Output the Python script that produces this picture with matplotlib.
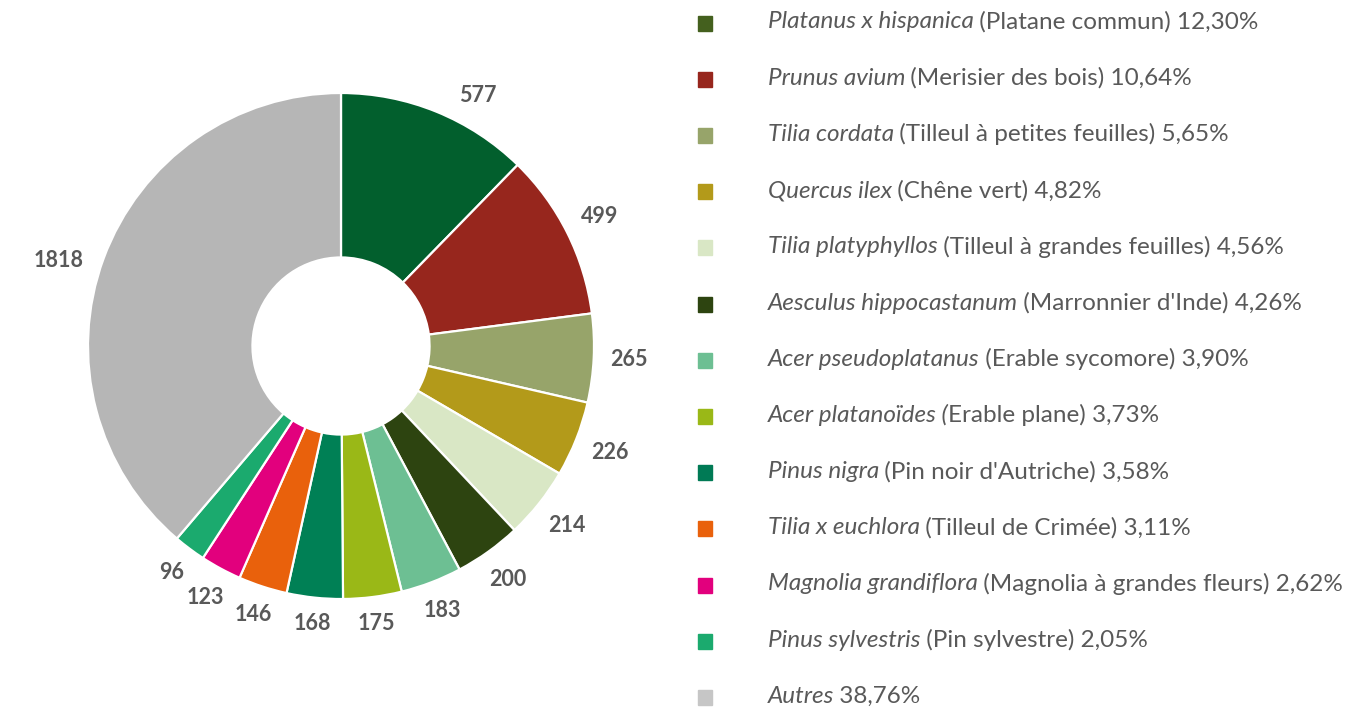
import numpy as np
import matplotlib
matplotlib.use("Agg")
import matplotlib.pyplot as plt
from matplotlib.patches import Rectangle

# data
species = ["Platanus x hispanica", "Prunus avium", "Tilia cordata", "Quercus ilex",
           "Tilia platyphyllos", "Aesculus hippocastanum", "Acer pseudoplatanus",
           "Acer platanoïdes (", "Pinus nigra", "Tilia x euchlora",
           "Magnolia grandiflora", "Pinus sylvestris", "Autres"]
common = ["(Platane commun)", "(Merisier des bois)", "(Tilleul à petites feuilles)",
          "(Chêne vert)", "(Tilleul à grandes feuilles)", "(Marronnier d'Inde)",
          "(Erable sycomore)", "Erable plane)", "(Pin noir d'Autriche)",
          "(Tilleul de Crimée)", "(Magnolia à grandes fleurs)", "(Pin sylvestre)", ""]
counts = [577, 499, 265, 226, 214, 200, 183, 175, 168, 146, 123, 96, 1818]

pie_colors = ["#025F2D", "#97261D", "#97A46A", "#B39A1A", "#D9E7C5", "#2D4410",
              "#6DBF93", "#9AB817", "#008055", "#E9610C", "#E2007D", "#1BAA6E", "#B6B6B6"]
legend_colors = ["#44601E", "#97261D", "#97A46A", "#B39A1A", "#D9E7C5", "#2D4410",
                 "#6DBF93", "#9AB817", "#007A55", "#E9610C", "#E2007D", "#1BAA6E", "#C6C6C6"]
# small angular nudge (deg) for labels that the original moved
label_nudge = [6.5, 0, 0, 0, 0, 0, 0, 0, 0, 0, 0, 0, -3.5]

grey = "#595959"
plt.rcParams['font.family'] = ['Lato', 'DejaVu Sans']

W, H = 1349, 709
fig = plt.figure(figsize=(W / 100, H / 100), dpi=100)

# pie axes: center (341,346) px, radius 253 px
cx, cy, r = 341, 346, 253
ax = fig.add_axes([(cx - r) / W, (H - cy - r) / H, 2 * r / W, 2 * r / H])
wedges, _ = ax.pie(counts, colors=pie_colors, startangle=90, counterclock=False,
                   wedgeprops=dict(width=0.65, edgecolor="white", linewidth=1.6))
ax.set_xlim(-1, 1)
ax.set_ylim(-1, 1)
ax.set_aspect("equal")
ax.axis("off")

renderer = fig.canvas.get_renderer()
gap = 16 / r
for w, c, nd in zip(wedges, counts, label_nudge):
    ang = np.deg2rad((w.theta1 + w.theta2) / 2 - nd)
    ux, uy = np.cos(ang), np.sin(ang)
    t = ax.text(0, 0, str(c), color=grey, fontsize=15.5, fontweight="bold",
                ha="center", va="center")
    bb = t.get_window_extent(renderer)
    hw, hh = bb.width / 2 / r, bb.height / 2 / r * 0.8
    d = 1 + gap + hw * abs(ux) + hh * abs(uy)
    t.set_position((d * ux, d * uy))

# legend drawn by hand (italic species + normal text)
total = sum(counts)
y0, dy = 22, 56.2
for i, (sp, cm, c) in enumerate(zip(species, common, counts)):
    ypx = y0 + i * dy
    yf = 1 - ypx / H
    fig.patches.append(Rectangle((698 / W, 1 - (ypx + 8.5) / H), 13.5 / W, 15 / H,
                                 transform=fig.transFigure, color=legend_colors[i]))
    pct = f"{100 * c / total:.2f}".replace(".", ",") + "%"
    t1 = fig.text(768 / W, yf, sp, style="italic", color=grey, fontsize=17.5, va="center")
    bb = t1.get_window_extent(renderer)
    rest = (" " + cm + " " + pct) if cm else (" " + pct)
    if sp.endswith("("):
        rest = rest.lstrip()
    fig.text((bb.x1 - 1) / W, yf, rest, color=grey, fontsize=17.5, va="center")

fig.savefig("out.png", dpi=100)
